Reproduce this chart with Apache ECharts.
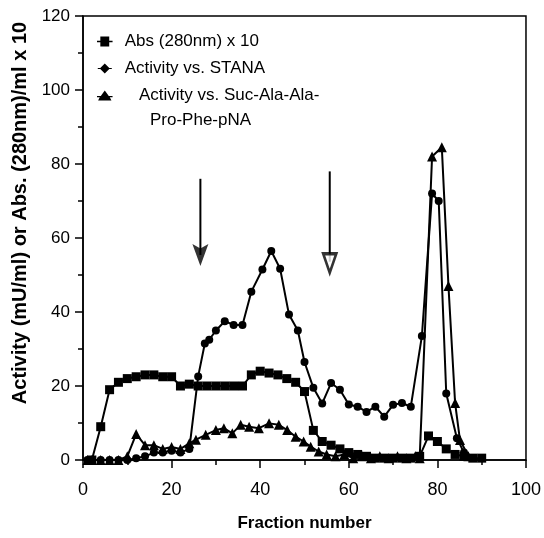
<!DOCTYPE html>
<html><head><meta charset="utf-8">
<script src="https://cdn.jsdelivr.net/npm/echarts@6/dist/echarts.min.js"></script>
<style>html,body{margin:0;padding:0;background:#fff}#c{width:544px;height:538px}</style>
</head><body><div id="c"></div>
<script>
// ---- data ----
const xTicks = [0, 20, 40, 60, 80, 100];
const yTicks = [0, 20, 40, 60, 80, 100, 120];

const absX = [2,4,6,8,10,12,14,16,18,20,22,24,26,28,30,32,34,36,38,40,42,44,46,48,50,52,54,56,58,60,62,64,66,68,70,72,74,76,78,80,82,84,86,88,90];
const absY = [0,9,19,21,22,22.5,23,23,22.5,22.5,20,20.5,20,20,20,20,20,20,23,24,23.5,23,22,21,18.5,8,5,4,3,2,1.5,1,0.5,0.5,0.5,0.5,0.5,1,6.5,5,3,1.5,1,0.5,0.5];

const stanaX = [1,2,4,6,8,10,12,14,16,18,20,22,24,26,27.5,28.5,30,32,34,36,38,40.5,42.5,44.5,46.5,48.5,50,52,54,56,58,60,62,64,66,68,70,72,74,76.5,78.8,80.3,82,84.4,86];
const stanaY = [0,0,0,0,0,0,0.5,1,2,2,2.5,2,3,22.6,31.5,32.5,35,37.5,36.5,36.5,45.5,51.5,56.5,51.7,39.3,35,26.5,19.5,15.3,20.8,19,15,14.4,13,14.4,11.7,14.9,15.4,14.4,33.5,72,70,18,5.9,2];

const sucX = [1,2,4,6,8,10,12,14,16,18,20,22,24,25.5,27.7,30,31.8,33.7,35.6,37.5,39.7,42,44.2,46.1,48,49.8,51.4,53.2,55,57,59,61,63,65,67,69,71,73,75,76,78.8,81,82.5,84,85.1,87];
const sucY = [0,0,0,0,0,1,7,4,4,3,3.5,3,4.5,5.5,6.8,8.1,8.6,7.2,9.5,9,8.6,9.9,9.5,8.1,6.3,5,3.6,2.3,1.5,1,1.5,0.5,1,0.5,1,0.5,1,0.5,1,0.5,82,84.5,47,15.4,5.4,1];

const arrowX = [26.5, 55.7];
const arrowTop = [76, 78];
const arrowTip = [52.4, 50.6];

const seriesNames = ['Abs (280nm) x 10', 'Activity vs. STANA', 'Activity vs. Suc-Ala-Ala-'];
const nameCont = 'Pro-Phe-pNA';
const xTitle = 'Fraction number';
const yTitle = 'Activity (mU/ml) or Abs. (280nm)/ml x 10';

// ---- helpers ----
function pairs(xs, ys) { return xs.map((x, i) => [x, ys[i]]); }
const F = '"Liberation Sans", Arial, sans-serif';
const legendSize = 17;

const iconSquare = 'path://M0,4.4 L3,4.4 L3,0.5 L11,0.5 L11,4.4 L14,4.4 L14,5.6 L11,5.6 L11,9.5 L3,9.5 L3,5.6 L0,5.6 Z';
const iconDiamond = 'path://M0,4.4 L2.5,4.4 L7,0 L11.5,4.4 L14,4.4 L14,5.6 L11.5,5.6 L7,10 L2.5,5.6 L0,5.6 Z';
const iconTri = 'path://M0,5.4 L3.4,5.4 L7,0.5 L10.6,5.4 L14,5.4 L14,6.6 L11.5,6.6 L13,9.5 L1,9.5 L2.5,6.6 L0,6.6 Z';

const chart = echarts.init(document.getElementById('c'), null, { renderer: 'canvas' });
const lineStyle = { color: '#000', width: 2 };

const arrowSeries = [];
arrowX.forEach((x, i) => {
  arrowSeries.push({
    type: 'line', data: [[x, arrowTop[i]], [x, arrowTip[i] + 3]], symbol: 'none',
    lineStyle: { color: '#000', width: 2 }, silent: true, z: 5
  });
});
arrowSeries.push({
  type: 'scatter', data: [[arrowX[0], arrowTip[0]]],
  symbol: 'path://M0,0 L7,4 L14,0 L7,20 Z', symbolSize: [16, 22], symbolOffset: [0, '-50%'],
  itemStyle: { color: '#000' }, silent: true, z: 6
});
arrowSeries.push({
  type: 'scatter', data: [[arrowX[1], arrowTip[1]]],
  symbol: 'path://M0,0 L14,0 L7,20 Z', symbolSize: [13, 19], symbolOffset: [0, '-50%'],
  itemStyle: { color: '#fff', borderColor: '#000', borderWidth: 3 }, silent: true, z: 6
});

chart.setOption({
  animation: false,
  backgroundColor: '#fff',
  grid: { left: 83, right: 17, top: 16, bottom: 78, show: true, borderColor: '#000', borderWidth: 1.5, backgroundColor: 'transparent' },
  legend: {
    orient: 'vertical', left: 92, top: 23, itemGap: 0,
    itemWidth: 16, itemHeight: 10,
    data: [
      { name: seriesNames[0], icon: iconSquare },
      { name: seriesNames[1], icon: iconDiamond },
      { name: seriesNames[2], icon: iconTri }
    ],
    formatter: function (n) { return n === seriesNames[2] ? '   ' + n : n; },
    textStyle: { fontFamily: F, fontSize: legendSize, color: '#000', lineHeight: 27, padding: [0, 0, 0, 7] },
    itemStyle: { color: '#000' }
  },
  graphic: [{
    type: 'text', left: 150, top: 112,
    style: { text: nameCont, font: legendSize + 'px ' + F, fill: '#000' }
  }],
  xAxis: {
    type: 'value', min: 0, max: 100, interval: 20,
    name: xTitle, nameLocation: 'middle', nameGap: 55,
    nameTextStyle: { fontFamily: F, fontWeight: 'bold', fontSize: 17, color: '#000' },
    axisLine: { show: true, lineStyle: { color: '#000', width: 1.5 } },
    axisTick: { show: true, length: 8, lineStyle: { color: '#000', width: 1.5 } },
    minorTick: { show: true, splitNumber: 2, length: 5, lineStyle: { color: '#000', width: 1.5 } },
    axisLabel: { fontFamily: F, fontSize: 18, color: '#000', margin: 21 },
    splitLine: { show: false }
  },
  yAxis: {
    type: 'value', min: 0, max: 120, interval: 20,
    name: yTitle, nameLocation: 'middle', nameGap: 50,
    nameTextStyle: { fontFamily: F, fontWeight: 'bold', fontSize: 20, color: '#000', padding: [0, 0, 0, 50] },
    axisLine: { show: true, lineStyle: { color: '#000', width: 1.5 } },
    axisTick: { show: true, length: 8, lineStyle: { color: '#000', width: 1.5 } },
    minorTick: { show: true, splitNumber: 2, length: 5, lineStyle: { color: '#000', width: 1.5 } },
    axisLabel: { fontFamily: F, fontSize: 17, color: '#000', margin: 13 },
    splitLine: { show: false }
  },
  series: [
    {
      name: seriesNames[0], type: 'line', data: pairs(absX, absY),
      symbol: 'rect', symbolSize: 9, showAllSymbol: true,
      lineStyle: lineStyle, itemStyle: { color: '#000' }, z: 3
    },
    {
      name: seriesNames[1], type: 'line', data: pairs(stanaX, stanaY),
      symbol: 'circle', symbolSize: 8, showAllSymbol: true,
      lineStyle: lineStyle, itemStyle: { color: '#000' }, z: 3
    },
    {
      name: seriesNames[2], type: 'line', data: pairs(sucX, sucY),
      symbol: 'triangle', symbolSize: 10, showAllSymbol: true,
      lineStyle: lineStyle, itemStyle: { color: '#000' }, z: 3
    }
  ].concat(arrowSeries)
});
</script>
</body></html>
